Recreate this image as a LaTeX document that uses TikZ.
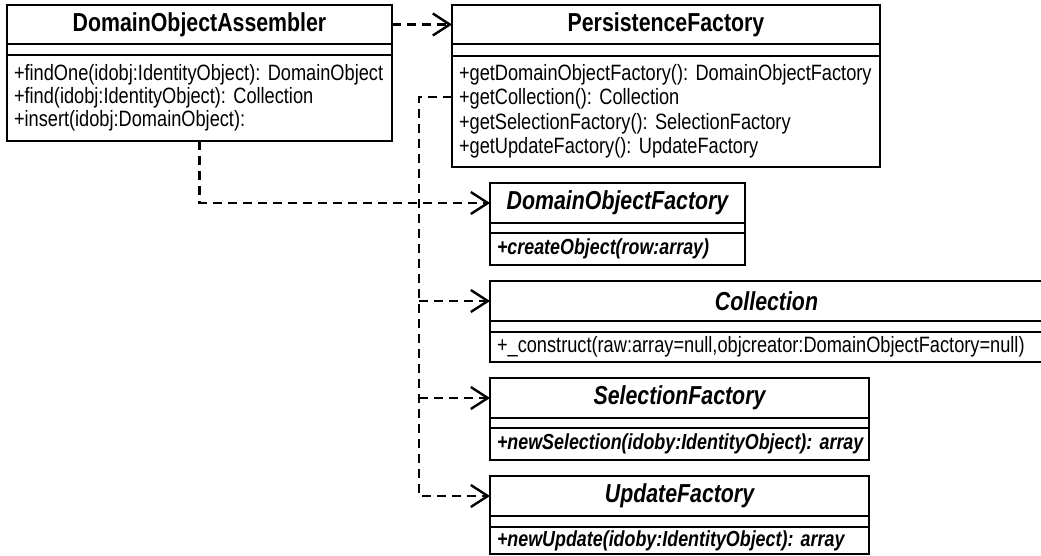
\documentclass[tikz,border=0pt]{standalone}
\usepackage{fontspec}
\setmainfont{Liberation Sans}[FakeStretch=0.82]
\usetikzlibrary{arrows.meta}
\newcommand\methsp{\spaceskip=3.8pt\relax}
\begin{document}
\begin{tikzpicture}[x=1pt,y=-1pt,
  cls/.style={draw, line width=1.8pt, anchor=north west, inner sep=0pt, outer sep=0pt},
  ctitle/.style={cls, font=\frenchspacing\bfseries\fontsize{26}{28}\selectfont, align=center},
  atitle/.style={cls, font=\frenchspacing\bfseries\itshape\fontsize{26}{28}\selectfont, align=center},
  cempty/.style={cls},
  cmeth/.style={cls, font=\frenchspacing\fontsize{22.2}{23}\selectfont\methsp, align=left, inner xsep=7pt},
  ameth/.style={cmeth, font=\frenchspacing\bfseries\itshape\fontsize{21.8}{23}\selectfont\methsp},
  dep/.style={line width=2.4pt, dash pattern=on 9pt off 6pt, -{Straight Barb[length=17pt,width=22pt,line width=2.4pt]}}
]
\useasboundingbox (0,0) rectangle (1041,555);

% DomainObjectAssembler
\node[ctitle, minimum width=385, minimum height=39] (doa) at (7,5) {DomainObjectAssembler};
\node[cempty, minimum width=385, minimum height=11] (doa-a) at (doa.south west) {};
\node[cmeth, text width=371, minimum height=86] (doa-m) at (doa-a.south west)
  {\mbox{+findOne(idobj:IdentityObject): DomainObject}\\\mbox{+find(idobj:IdentityObject): Collection}\\\mbox{+insert(idobj:DomainObject):}};

% PersistenceFactory
\node[ctitle, minimum width=428, minimum height=39] (pf) at (452,5) {PersistenceFactory};
\node[cempty, minimum width=428, minimum height=12] (pf-a) at (pf.south west) {};
\node[cmeth, text width=414, minimum height=111, font=\frenchspacing\fontsize{22.2}{24.5}\selectfont\methsp] (pf-m) at (pf-a.south west)
  {\mbox{+getDomainObjectFactory(): DomainObjectFactory}\\\mbox{+getCollection(): Collection}\\\mbox{+getSelectionFactory(): SelectionFactory}\\\mbox{+getUpdateFactory(): UpdateFactory}};

% DomainObjectFactory
\node[atitle, minimum width=255, minimum height=40] (dof) at (490,183) {DomainObjectFactory};
\node[cempty, minimum width=255, minimum height=10] (dof-a) at (dof.south west) {};
\node[ameth, text width=241, minimum height=32] (dof-m) at (dof-a.south west) {\mbox{+createObject(row:array)}};

% Collection
\node[atitle, minimum width=553, minimum height=40] (coll) at (490,281) {Collection};
\node[cempty, minimum width=553, minimum height=11] (coll-a) at (coll.south west) {};
\node[cmeth, text width=539, minimum height=30] (coll-m) at (coll-a.south west) {\mbox{+\_construct(raw:array=null,objcreator:DomainObjectFactory=null)}};

% SelectionFactory
\node[atitle, minimum width=379, minimum height=40] (sf) at (490,378) {SelectionFactory};
\node[cempty, minimum width=379, minimum height=10] (sf-a) at (sf.south west) {};
\node[ameth, text width=365, minimum height=32] (sf-m) at (sf-a.south west) {\mbox{+newSelection(idoby:IdentityObject): array}};

% UpdateFactory
\node[atitle, minimum width=379, minimum height=40] (uf) at (490,476) {UpdateFactory};
\node[cempty, minimum width=379, minimum height=11] (uf-a) at (uf.south west) {};
\node[ameth, text width=365, minimum height=27] (uf-m) at (uf-a.south west) {\mbox{+newUpdate(idoby:IdentityObject): array}};

% connectors
\coordinate (bustop) at (419,97);
\draw[dep] (doa.east) -- (pf.west);
\draw[dep] (pf-m.west |- bustop) -- (bustop) -- (bustop |- uf.west) -- (uf.west);
\draw[dep] (bustop |- coll.west) -- (coll.west);
\draw[dep] (bustop |- sf.west) -- (sf.west);
\draw[dep] (doa-m.south) -- (doa-m.south |- dof.west) -- (dof.west);
\end{tikzpicture}
\end{document}
